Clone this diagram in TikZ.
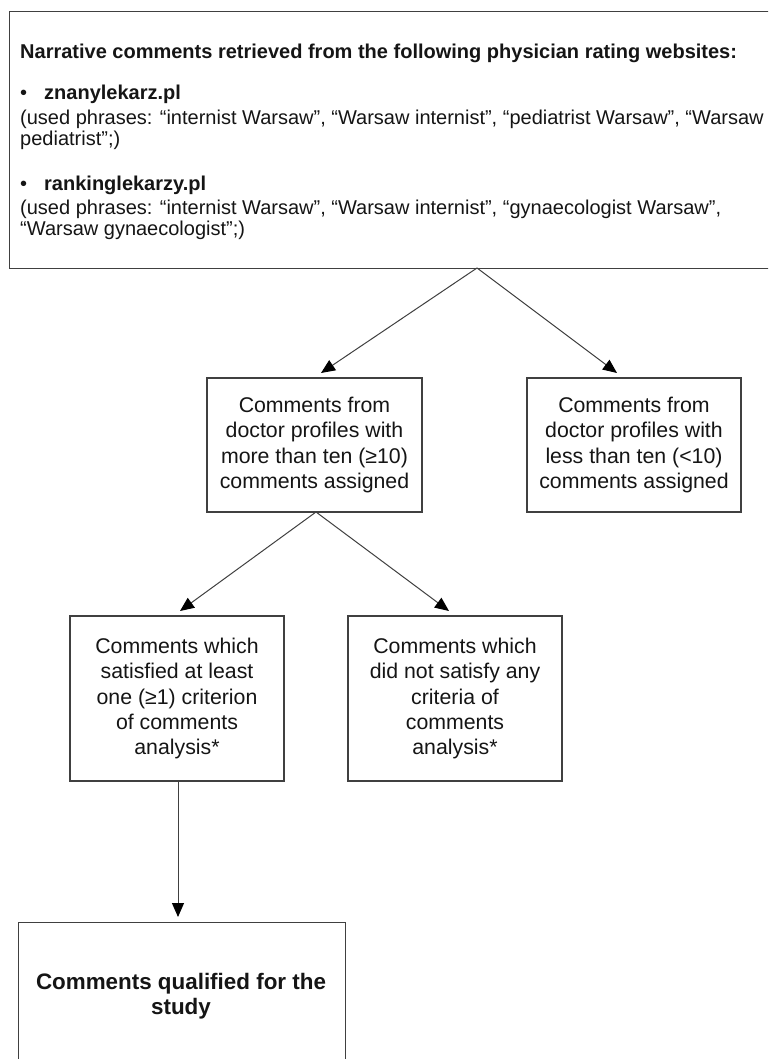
\documentclass[tikz,border=0pt]{standalone}
\usepackage{fontspec}
\setmainfont{Liberation Sans}
\usetikzlibrary{arrows.meta}
\definecolor{linec}{HTML}{404040}
\definecolor{txt}{HTML}{151515}
\begin{document}
\begin{tikzpicture}[x=1pt,y=-1pt,
  box/.style={draw=linec, line width=1.1pt, rectangle, inner sep=0pt, align=center,
    font=\fontsize{21.3}{25.4}\selectfont, text=txt},
  arr/.style={draw=linec, line width=1pt, -{Triangle[length=14pt,width=12pt,color=black]}},
  tl/.style={anchor=base west, inner sep=0pt, text=txt, font=\fontsize{20}{23}\selectfont},
  tlb/.style={tl, font=\bfseries\fontsize{20}{23}\selectfont},
]
\useasboundingbox (0,0) rectangle (768,1059);
\clip (0,0) rectangle (768,1059);
\fill[white] (0,0) rectangle (768,1059);

% top box
\node[box, minimum width=770pt, minimum height=257pt, anchor=north west] (top) at (9,11) {};
\node[tlb] (title) at (20,59) {Narrative comments retrieved from the following physician rating websites:};
\node[tl] (b1) at (20,100) {•};
\node[tlb] (s1) at (44,100) {znanylekarz.pl};
\node[tl] (p1a) at (20,125) {(used phrases: “internist Warsaw”, “Warsaw internist”, “pediatrist Warsaw”, “Warsaw};
\node[tl] (p1b) at (20,146) {pediatrist”;)};
\node[tl] (b2) at (20,191) {•};
\node[tlb] (s2) at (44,191) {rankinglekarzy.pl};
\node[tl] (p2a) at (20,215) {(used phrases: “internist Warsaw”, “Warsaw internist”, “gynaecologist Warsaw”,};
\node[tl] (p2b) at (20,236) {“Warsaw gynaecologist”;)};

% second level
\node[box, minimum width=215pt, minimum height=134pt] (A) at (314.5,445) {Comments from\\doctor profiles with\\more than ten (≥10)\\comments assigned};
\node[box, minimum width=214pt, minimum height=134pt] (B) at (634,445) {Comments from\\doctor profiles with\\less than ten (<10)\\comments assigned};

% third level
\node[box, minimum width=214pt, minimum height=165pt] (C) at (177,698.5) {Comments which\\satisfied at least\\one (≥1) criterion\\of comments\\analysis*};
\node[box, minimum width=214pt, minimum height=165pt] (D) at (455,698.5) {Comments which\\did not satisfy any\\criteria of\\comments\\analysis*};

% final
\node[box, minimum width=327pt, minimum height=150pt, anchor=north west] (E) at (18,922) {};
\node[inner sep=0pt, align=center, text=txt, font=\bfseries\fontsize{22.4}{25}\selectfont] (Et) at (181,996) {Comments qualified for the\\study};

% connectors
\coordinate (apex) at (477,268);
\coordinate (tipA) at (321,373);
\coordinate (tipB) at (617,373);
\coordinate (baseA) at (316,512);
\coordinate (tipC) at (180,611);
\coordinate (tipD) at (449,611);
\coordinate (baseC) at (178,781);
\coordinate (tipE) at (178,917);
\draw[arr] (apex) -- (tipA);
\draw[arr] (apex) -- (tipB);
\draw[arr] (baseA) -- (tipC);
\draw[arr] (baseA) -- (tipD);
\draw[arr] (baseC) -- (tipE);
\end{tikzpicture}
\end{document}
